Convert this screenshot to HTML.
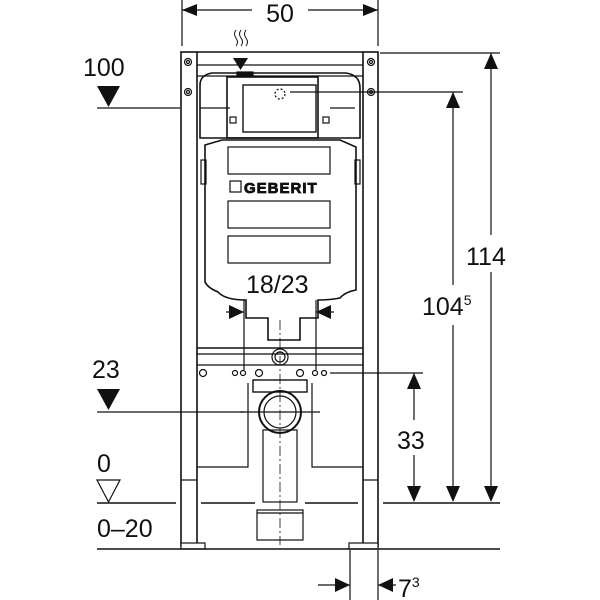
<!DOCTYPE html>
<html><head><meta charset="utf-8"><style>
html,body{margin:0;padding:0;background:#fff}
svg{display:block}
text{font-family:"Liberation Sans",Arial,sans-serif;fill:#111}
</style></head><body>
<svg width="600" height="600" viewBox="0 0 600 600" xmlns="http://www.w3.org/2000/svg">
<g stroke="#111" fill="none" stroke-width="1.2">
<line x1="182" y1="0" x2="182" y2="46"/>
<line x1="378" y1="0" x2="378" y2="46"/>
<line x1="182" y1="10" x2="378" y2="10"/>
<rect x="181" y="52" width="16" height="494" stroke-width="1.6"/>
<rect x="363" y="52" width="15" height="494" stroke-width="1.6"/>
<line x1="197" y1="52" x2="363" y2="52" stroke-width="1.6"/>
<line x1="197" y1="65" x2="363" y2="65"/>
<line x1="197" y1="76" x2="363" y2="76"/>
<line x1="181" y1="480" x2="197" y2="480"/>
<line x1="363" y1="480" x2="378" y2="480"/>
<circle cx="188" cy="62" r="3.5"/><circle cx="188" cy="62" r="1.5"/>
<circle cx="371" cy="62" r="3.5"/><circle cx="371" cy="62" r="1.5"/>
<circle cx="188" cy="92" r="3.5"/><circle cx="188" cy="92" r="1.5"/>
<circle cx="371" cy="92" r="3.5"/><circle cx="371" cy="92" r="1.5"/>
<rect x="181" y="543" width="24" height="6" fill="#fff"/>
<rect x="349" y="543" width="29" height="6" fill="#fff"/>
<line x1="197" y1="348" x2="363" y2="348" stroke-width="1.6"/>
<line x1="197" y1="354" x2="363" y2="354"/>
<line x1="197" y1="365" x2="363" y2="365"/>
<path d="M197 467 H248 V383"/>
<path d="M363 467 H312 V383"/>
<path d="M200 138 V85 Q200 75 212 73 H346 Q360 75 360 88 V138 Z" stroke-width="1.6"/>
<rect x="227" y="77" width="91" height="61" stroke-width="1.6"/>
<rect x="243" y="85" width="73" height="47" stroke-width="1.4"/>
<rect x="230" y="117" width="6" height="6"/><rect x="323" y="117" width="6" height="6"/>
<circle cx="280" cy="94" r="5" stroke-dasharray="2 2"/>
<rect x="237" y="72" width="16" height="4" fill="#111"/>
<path d="M205 145 L222 140 H340 L356 147 V290 Q345 292 340 298 Q330 300 318 300 V318 H300 V340 H268 V318 H246 V300 Q225 300 218 292 Q208 288 205 282 Z" stroke-width="1.6"/>
<rect x="228" y="147" width="102" height="27"/>
<rect x="228" y="201" width="102" height="27"/>
<rect x="228" y="236" width="102" height="27"/>
<rect x="230" y="181" width="11" height="11"/>
<rect x="201" y="160" width="5" height="24"/><rect x="355" y="160" width="5" height="24"/>
<circle cx="203" cy="373" r="3.5"/>
<circle cx="235" cy="373" r="2.5"/><circle cx="243" cy="373" r="2.5"/>
<circle cx="259" cy="373" r="3.5"/><circle cx="300" cy="373" r="3.5"/>
<circle cx="315" cy="373" r="2.5"/><circle cx="324" cy="373" r="2.5"/>
<circle cx="280" cy="357" r="8"/><circle cx="280" cy="357" r="5"/>
<rect x="253" y="380" width="54" height="12" stroke-width="1.4"/>
<circle cx="280" cy="412" r="21" stroke-width="2"/>
<circle cx="280" cy="412" r="16"/>
<rect x="263" y="430" width="34" height="72"/>
<rect x="257" y="510" width="46" height="30"/>
<line x1="257" y1="513" x2="303" y2="513"/>
<line x1="280" y1="320" x2="280" y2="545" stroke-dasharray="10 3 2 3" stroke-width="0.8"/>
<line x1="97" y1="108" x2="180" y2="108"/>
<line x1="200" y1="108" x2="230" y2="108"/>
<line x1="330" y1="108" x2="355" y2="108"/>
<line x1="290" y1="92" x2="463" y2="92"/>
<line x1="380" y1="53" x2="500" y2="53"/>
<line x1="97" y1="412" x2="245" y2="412"/>
<line x1="240" y1="412" x2="320" y2="412"/>
<line x1="330" y1="373" x2="423" y2="373"/>
<path d="M97 503 H176 M201 503 H255 M305 503 H358 M383 503 H500" stroke-width="1.6"/>
<line x1="97" y1="549" x2="500" y2="549" stroke-width="1.6"/>
<line x1="414" y1="373" x2="414" y2="420"/><line x1="414" y1="455" x2="414" y2="500"/>
<line x1="453" y1="92" x2="453" y2="285"/><line x1="453" y1="325" x2="453" y2="500"/>
<line x1="491" y1="53" x2="491" y2="235"/><line x1="491" y1="272" x2="491" y2="500"/>
<line x1="244" y1="300" x2="244" y2="370"/><line x1="316" y1="300" x2="316" y2="370"/>
<line x1="226" y1="312" x2="244" y2="312"/><line x1="316" y1="312" x2="334" y2="312"/>
<line x1="350" y1="550" x2="350" y2="600"/><line x1="378" y1="550" x2="378" y2="600"/>
<line x1="318" y1="585" x2="350" y2="585"/><line x1="378" y1="585" x2="396" y2="585"/>
<path d="M236 30 q-3 4 0 8 q3 4 0 8 M241 30 q-3 4 0 8 q3 4 0 8 M246 30 q-3 4 0 8 q3 4 0 8" stroke-width="1"/>
<path d="M97 480 H120 L108.5 502 Z"/>
</g>
<g fill="#111">
<path d="M182 10 l15 -6 v12 z"/><path d="M378 10 l-15 -6 v12 z"/>
<path d="M233 58 h15 l-7.5 12 z"/>
<path d="M97 86 H120 L108.5 107 Z"/>
<path d="M97 389 H120 L108.5 410 Z"/>
<path d="M491 53 l-7 16 h14 z"/><path d="M491 502 l-7 -16 h14 z"/>
<path d="M453 92 l-7 16 h14 z"/><path d="M453 502 l-7 -16 h14 z"/>
<path d="M414 373 l-7 16 h14 z"/><path d="M414 502 l-7 -16 h14 z"/>
<path d="M244 312 l-15 -7 v14 z"/><path d="M316 312 l15 -7 v14 z"/>
<path d="M350 585 l-15 -7 v14 z"/><path d="M378 585 l15 -7 v14 z"/>
</g>
<rect x="252" y="3" width="56" height="20" fill="#fff"/>
<text x="280" y="22" font-size="25" text-anchor="middle">50</text>
<text x="83" y="76" font-size="25">100</text>
<text x="92" y="378" font-size="25">23</text>
<text x="97" y="472" font-size="25">0</text>
<text x="97" y="537" font-size="25">0–20</text>
<text x="466" y="265" font-size="25">114</text>
<text x="422" y="315" font-size="25">104<tspan font-size="14" dy="-10">5</tspan></text>
<text x="397" y="449" font-size="25">33</text>
<text x="246" y="293" font-size="25">18/23</text>
<text x="398" y="597" font-size="25">7<tspan font-size="14" dy="-10">3</tspan></text>
<text x="244" y="193" font-size="15" font-weight="bold" fill="#fff" stroke="#111" stroke-width="0.8" letter-spacing="1">GEBERIT</text>
</svg>
</body></html>
